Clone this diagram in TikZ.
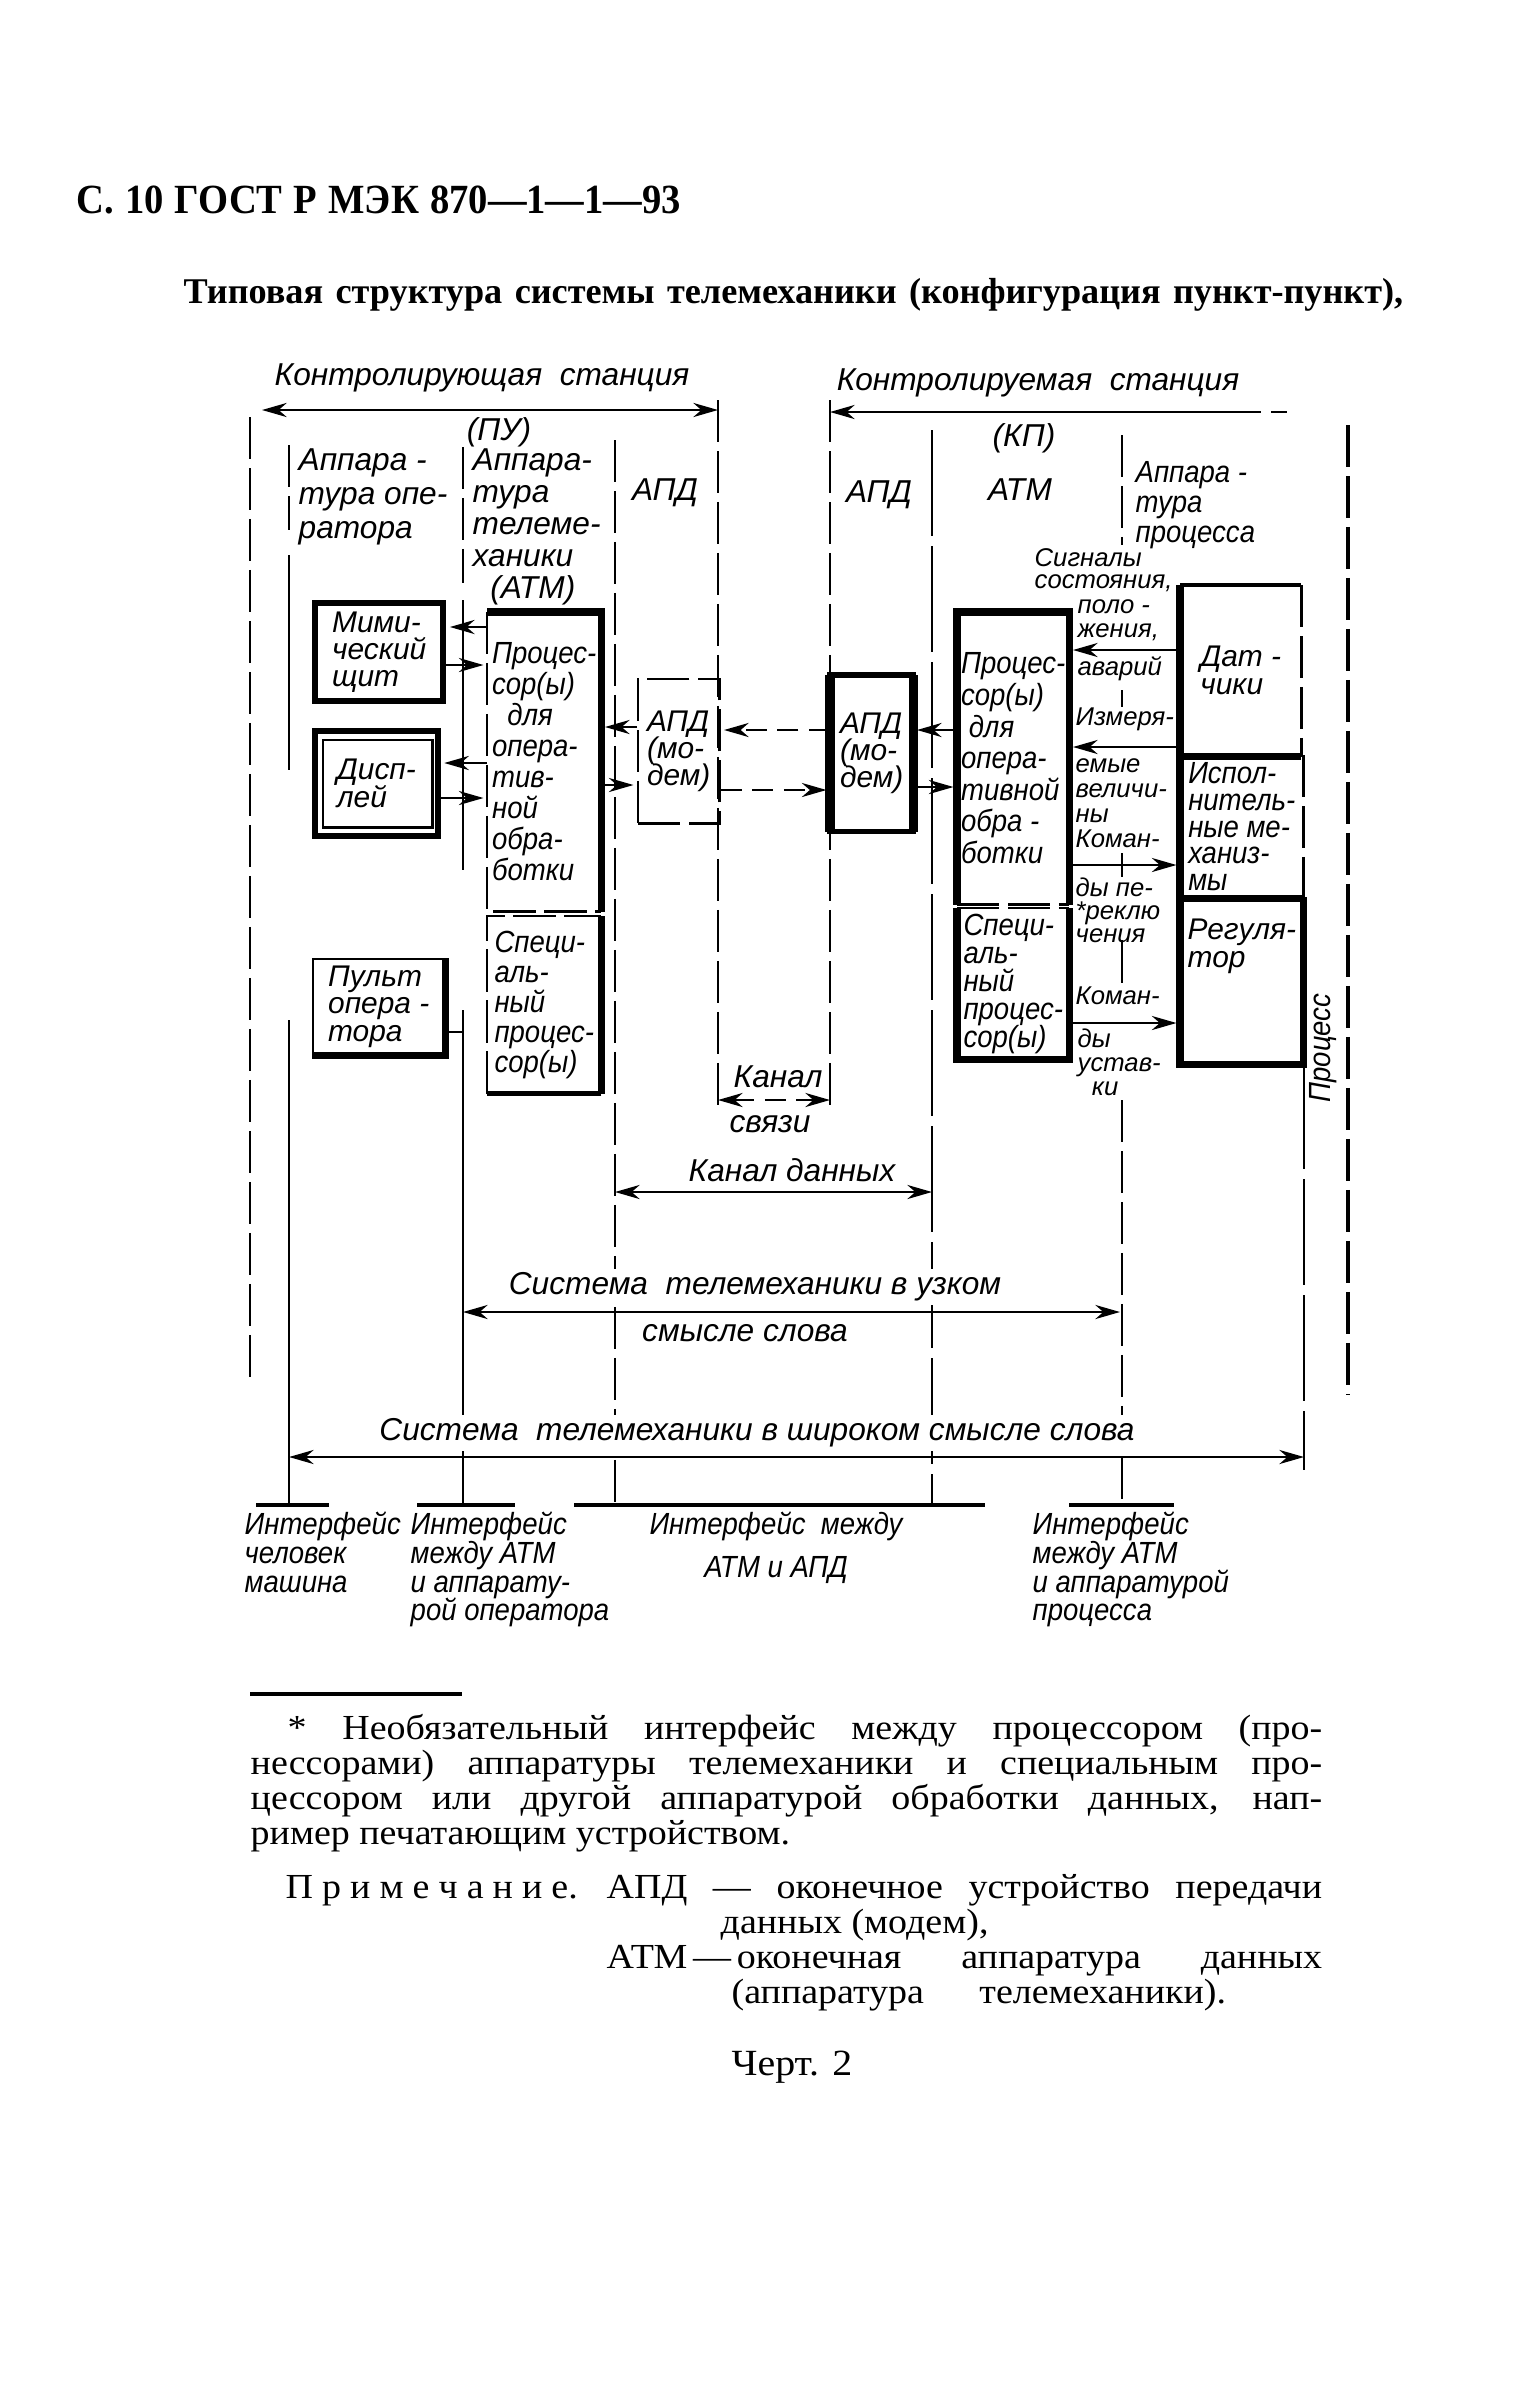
\documentclass[tikz,border=0pt]{standalone}
\usepackage{fontspec}
\setmainfont[FakeStretch=1.08]{Liberation Serif}
\newfontfamily\hdfont[FakeStretch=0.93]{Liberation Serif}
\newfontfamily\ttlfont{Liberation Serif}
\newfontfamily\gostn{Liberation Sans}
\newfontfamily\gostc[FakeStretch=0.9]{Liberation Sans}
\usetikzlibrary{arrows.meta,positioning}

\tikzset{
	sline/.style={line width=0.7pt},
	dline/.style={line width=0.7pt, dash pattern=on 12pt off 2.5pt},
	ldline/.style={line width=0.8pt, dash pattern=on 30pt off 3pt},
	heavy/.style={line width=2pt},
	arr/.style={-{Stealth[length=7pt,width=4pt]}, line width=0.8pt, shorten >=1pt},
	larr/.style={{Stealth[length=7pt,width=4pt]}-, line width=0.8pt},
	darr/.style={{Stealth[length=7pt,width=4pt]}-{Stealth[length=7pt,width=4pt]}, line width=0.8pt},
	blk/.style={rectangle, inner sep=0pt, anchor=north west, align=left},
	hlab/.style={font={\gostn\itshape\fontsize{9}{#1}\selectfont\lineskiplimit=-20pt}, align=left, inner sep=0pt},
	nlab/.style={font={\gostn\itshape\fontsize{8.5}{#1}\selectfont\lineskiplimit=-20pt}, align=left, inner sep=0pt},
	clab/.style={font={\gostc\itshape\fontsize{8.7}{#1}\selectfont\lineskiplimit=-20pt}, align=left, inner sep=0pt},
	slab/.style={font={\gostn\itshape\fontsize{7.3}{#1}\selectfont\lineskiplimit=-20pt}, align=left, inner sep=0pt},
	mask/.style={fill=white, inner xsep=2pt, inner ysep=1pt},
}

\begin{document}
\begin{tikzpicture}[x=0.01cm, y=-0.01cm]
\useasboundingbox (0,0) rectangle (1538,2396);

% page heading and title
\node[anchor=base west, inner sep=0pt, font=\hdfont\bfseries\fontsize{11.8}{13}\selectfont] (gost) at (76,213) {\makebox[6.04cm][s]{С. 10 ГОСТ Р МЭК 870—1—1—93}};
\node[anchor=base west, inner sep=0pt, font=\ttlfont\bfseries\fontsize{10.3}{12}\selectfont] (title) at (183,303) {\makebox[12.19cm][s]{Типовая структура системы телемеханики (конфигурация пункт-пункт),}};

% stations
\node[hlab=11] (ctrl) at (482,378) {Контролирующая\ \ станция};
\node[hlab=11] (pu) at (499,432) {(ПУ)};
\node[hlab=11] (ctrd) at (1038,383) {Контролируемая\ \ станция};
\node[hlab=11] (kp) at (1024,438) {(КП)};
\draw[darr] (262,410) -- (718,410);
\draw[larr] (830,412) -- (1243,412);
\draw[line width=0.8pt, dash pattern=on 5pt off 3pt] (1243,412) -- (1287,412);

% column headings
\node[hlab=9.6, anchor=north west] (hop) at (298,448) {Аппара -\\тура опе-\\ратора};
\node[hlab=9.1, anchor=north west] (hatm) at (472,448) {Аппара-\\тура\\телеме-\\ханики\\\ \ (АТМ)};
\node[hlab=11] (hapdL) at (665,493) {АПД};
\node[hlab=11] (hapdR) at (879,495) {АПД};
\node[hlab=11] (hatmR) at (1020,490) {АТМ};
\node[clab=8.5, anchor=north west] (hpr) at (1135,461) {Аппара -\\тура\\процесса};

% boundaries
\draw[dline] (250,417) -- (250,1377);
\draw[dline] (289,445) -- (289,530);
\draw[sline] (289,555) -- (289,770) (289,1020) -- (289,1505);
\draw[dline] (463,447) -- (463,583);
\draw[sline] (463,600) -- (463,870) (463,1010) -- (463,1505);
\draw[dline] (615,440) -- (615,1505);
\draw[dline] (718,400) -- (718,1110);
\draw[dline] (830,400) -- (830,1110);
\draw[ldline] (932,430) -- (932,1505);
\draw[dline] (1122,435) -- (1122,545);
\draw[sline] (1122,690) -- (1122,707) (1122,853) -- (1122,877) (1122,940) -- (1122,983);
\draw[dline] (1122,1100) -- (1122,1505);
\draw[ldline] (1304,1063) -- (1304,1470);
\draw[dline, line width=1.1pt] (1348,425) -- (1348,1395);
\draw[line width=1.2pt] (256,1505) -- (329,1505) (417,1505) -- (515,1505)
  (574,1505) -- (985,1505) (1069,1505) -- (1174,1505);

% operator side
\node[blk, nlab=7.8, minimum width=1.28cm, minimum height=0.98cm, draw, line width=1.8pt] (mimic) at (312,600) {Мими-\\ческий\\щит};
\node[blk, nlab=8, minimum width=1.23cm, minimum height=1.05cm, draw, line width=1.6pt] (disp) at (312,728) {Дисп-\\лей};
\draw[sline] ([shift={(11,12)}]disp.north west) rectangle ([shift={(-8,-11)}]disp.south east);
\node[blk, nlab=7.8, minimum width=1.31cm, minimum height=0.95cm, draw, sline] (pult) at (312,958) {Пульт\\опера -\\тора};
\draw[heavy] (pult.north east) -- (pult.south east) -- (pult.south west);
\coordinate (vlc) at (463,1032);

% ATM of the controlling station
\node[blk, clab=8.8, minimum width=1.13cm, minimum height=2.98cm] (procL) at (487,612) {Процес-\\сор(ы)\\\ \ для\\опера-\\тив-\\ной\\обра-\\ботки};
\draw[heavy] (procL.south east) -- (procL.north east) -- (procL.north west);
\draw[dline] (procL.north west) -- (procL.south west) -- (procL.south east);
\node[blk, clab=8.5, minimum width=1.13cm, minimum height=1.76cm] (specL) at (487,916) {Специ-\\аль-\\ный\\процес-\\сор(ы)};
\draw[heavy] (specL.north east) -- (specL.south east);
\draw[line width=1.2pt] (specL.south east) -- (specL.south west);
\draw[dline] (specL.south west) -- (specL.north west) -- (specL.north east);

% modems
\node[blk, nlab=7.8, minimum width=0.81cm, minimum height=1.44cm, draw, dline] (apdL) at (637,678) {АПД\\(мо-\\дем)};
\node[blk, nlab=7.8, minimum width=0.82cm, minimum height=1.55cm] (apdR) at (830,675) {АПД\\(мо-\\дем)};
\draw[line width=1.6pt] (apdR.north west) rectangle (apdR.south east);
\draw[line width=2.6pt] (apdR.north west) -- (apdR.south west) (apdR.north east) -- (apdR.south east);

% ATM of the controlled station
\node[blk, clab=9, minimum width=1.11cm, minimum height=2.91cm] (procR) at (957,612) {Процес-\\сор(ы)\\\ для\\опера-\\тивной\\обра -\\ботки};
\draw[heavy] (procR.south west) -- (procR.north west) -- (procR.north east) -- (procR.south east);
\draw[dline] (procR.south west) -- (procR.south east);
\node[blk, clab=8, minimum width=1.11cm, minimum height=1.5cm] (specR) at (957,908) {Специ-\\аль-\\ный\\процес-\\сор(ы)};
\draw[dline] (specR.north west) -- (specR.north east);
\draw[heavy] (specR.north west) -- (specR.south west) -- (specR.south east) -- (specR.north east);

% process equipment
\node[blk, nlab=8, minimum width=1.2cm, minimum height=1.7cm] (sens) at (1180,585) {Дат -\\чики};
\node[blk, clab=7.6, minimum width=1.22cm, minimum height=1.42cm] (act) at (1180,755) {Испол-\\нитель-\\ные ме-\\ханиз-\\мы};
\node[blk, minimum width=1.22cm, minimum height=1.66cm] (reg) at (1180,897) {};
\node[nlab=8, anchor=north west] (regt) at (1187,918) {Регуля-\\тор};
\draw[line width=1.2pt] (sens.north west) -- (sens.north east);
\draw[dline] (sens.north east) -- (sens.south east) (act.north east) -- (act.south east);
\draw[heavy] (sens.south west) -- (sens.south east) (act.south west) -- (act.south east);
\draw[heavy] (sens.north west) -- (reg.south west) -- (reg.south east) -- (reg.north east);
\node[clab=9, rotate=90] (prc) at (1323,1048) {Процесс};

% signals between ATM and process
\node[slab=6.2, anchor=north west] (sig1) at (1034,548) {Сигналы\\состояния,};
\node[slab=6.8, anchor=north west] (sig2) at (1077,599) {поло -\\жения,};
\node[slab=9, anchor=west] (sig3) at (1077,669) {аварий};
\node[slab=9, anchor=west] (sig4) at (1075,719) {Измеря-};
\node[slab=7.1, anchor=north west] (sig5) at (1075,758) {емые\\величи-\\ны\\Коман-};
\node[slab=6.5, anchor=north west] (sig6) at (1075,877) {ды пе-\\*реклю\\чения};
\node[slab=9, anchor=west] (sig7) at (1075,996) {Коман-};
\node[slab=6.8, anchor=north west] (sig8) at (1077,1028) {ды\\устав-\\\ \ ки};

% connections
\draw[arr] (procL.west |- 0,627) -- (mimic.east |- 0,627);
\draw[arr] (mimic.east |- 0,665) -- (procL.west |- 0,665);
\draw[arr] (procL.west |- 0,763) -- (disp.east |- 0,763);
\draw[arr] (disp.east |- 0,798) -- (procL.west |- 0,798);
\draw[sline] (pult.east |- vlc) -- (vlc);
\draw[arr] (apdL.west |- 0,727) -- (procL.east |- 0,727);
\draw[arr, dash pattern=on 6pt off 3pt] (procL.east |- 0,785) -- (apdL.west |- 0,785);
\draw[arr, dash pattern=on 6pt off 3pt] (apdR.west |- 0,730) -- (apdL.east |- 0,730);
\draw[arr, dash pattern=on 6pt off 3pt] (apdL.east |- 0,790) -- (apdR.west |- 0,790);
\draw[arr] (procR.west |- 0,730) -- (apdR.east |- 0,730);
\draw[arr] (apdR.east |- 0,787) -- (procR.west |- 0,787);
\draw[arr] (sens.west |- 0,650) -- (procR.east |- 0,650);
\draw[arr] (sens.west |- 0,747) -- (procR.east |- 0,747);
\draw[arr] (procR.east |- 0,865) -- (act.west |- 0,865);
\draw[arr] (specR.east |- 0,1023) -- (reg.west |- 0,1023);

% channels and system extent
\node[hlab=11] (ksv1) at (778,1077) {Канал};
\node[hlab=11] (ksv2) at (770,1124) {связи};
\draw[darr, dash pattern=on 6pt off 3pt] (718,1100) -- (830,1100);
\node[hlab=11, mask] (kd) at (792,1170) {Канал данных};
\draw[darr] (615,1192) -- (932,1192);
\node[hlab=11, mask] (tu1) at (755,1287) {Система\ \ телемеханики в узком};
\node[hlab=11] (tu2) at (745,1333) {смысле слова};
\draw[darr] (463,1312) -- (1120,1312);
\node[hlab=11, mask] (tw) at (757,1433) {Система\ \ телемеханики в широком смысле слова};
\draw[darr] (289,1457) -- (1304,1457);

% interfaces
\node[clab=8.2, anchor=north west] (if1) at (244,1511) {Интерфейс\\человек\\машина};
\node[clab=8.2, anchor=north west] (if2) at (410,1511) {Интерфейс\\между АТМ\\и аппарату-\\рой оператора};
\node[clab=12.2, anchor=north, align=center] (if3) at (776,1511) {Интерфейс\ \ между\\АТМ и АПД};
\node[clab=8.2, anchor=north west] (if4) at (1032,1511) {Интерфейс\\между АТМ\\и аппаратурой\\процесса};

% footnote and note
\draw[line width=1pt] (250,1694) -- (462,1694);
\node[anchor=north west, inner sep=0pt, text width=10.71cm, align=justify, font=\fontsize{10}{9.9}\selectfont] (fn) at (250,1714) {\hspace*{0.37cm}* Необязательный интерфейс между процессором (про-\linebreak нессорами) аппаратуры телемеханики и специальным про-\linebreak цессором или другой аппаратурой обработки данных, нап-\linebreak ример печатающим устройством.};
\node[anchor=base west, inner sep=0pt, font=\fontsize{10}{12}\selectfont] (prim) at (285,1898) {\makebox[2.92cm][s]{П р и м е ч а н и е.}};
\node[anchor=base west, inner sep=0pt, font=\fontsize{10}{12}\selectfont] (apdn) at (606,1898) {\makebox[7.15cm][s]{АПД — оконечное устройство передачи}};
\node[anchor=base west, inner sep=0pt, font=\fontsize{10}{12}\selectfont] (apdm) at (720,1933) {данных (модем),};
\node[anchor=base west, inner sep=0pt, font=\fontsize{10}{12}\selectfont] (atmn) at (606,1968) {\makebox[7.15cm][s]{АТМ\,—\,оконечная аппаратура данных}};
\node[anchor=base west, inner sep=0pt, font=\fontsize{10}{12}\selectfont] (atmm) at (731,2003) {\makebox[4.94cm][s]{(аппаратура телемеханики).}};
\node[anchor=base, inner sep=0pt, font=\fontsize{10.5}{12}\selectfont] (chert) at (792,2075) {Черт. 2};
\end{tikzpicture}
\end{document}
